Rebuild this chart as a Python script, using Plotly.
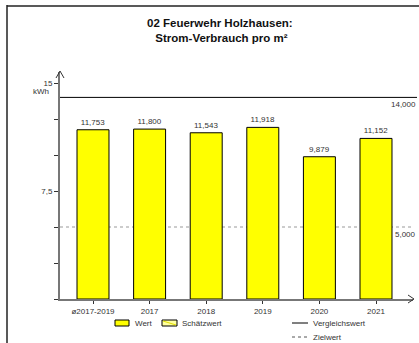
import plotly.graph_objects as go

categories = ["ø2017-2019", "2017", "2018", "2019", "2020", "2021"]
werte = [11.753, 11.800, 11.543, 11.918, 9.879, 11.152]
vergleichswert = 14.0
zielwert = 5.0
title_lines = ["02 Feuerwehr Holzhausen:", " Strom-Verbrauch pro m²"]
y_tickvals = [7.5, 15]

W, H = 419, 343
L, R, T, B = 60, 413, 72, 299  # plot area pixels


def px(x):
    return (x - L) / (R - L)


def py(y):
    return (B - y) / (B - T)


x0 = (L - 93) / 56.6
x1 = (R - 93) / 56.6
ytop = 15 + (83 - T) / 14.4

fig = go.Figure()
fig.add_trace(go.Bar(
    x=list(range(len(categories))), y=werte, width=0.565,
    marker=dict(color="#ffff00", line=dict(color="#000000", width=1)),
    texttemplate="%{y:.3f}", textposition="outside",
    textfont=dict(size=8, color="#333333", family="Liberation Sans, Arial"),
    cliponaxis=False, showlegend=False, hoverinfo="skip",
))

shapes = []
shapes.append(dict(type="line", xref="paper", yref="y", x0=0, x1=px(417),
                   y0=vergleichswert, y1=vergleichswert,
                   line=dict(color="#000000", width=1), layer="below"))
shapes.append(dict(type="line", xref="paper", yref="y", x0=0, x1=px(412),
                   y0=zielwert, y1=zielwert,
                   line=dict(color="#999999", width=1, dash="dot"), layer="below"))
shapes.append(dict(type="line", xref="paper", yref="paper", x0=px(7), x1=px(7),
                   y0=py(5), y1=py(343), line=dict(color="#222222", width=1.5)))
shapes.append(dict(type="line", xref="paper", yref="paper", x0=px(7), x1=px(419),
                   y0=py(6), y1=py(6), line=dict(color="#222222", width=1.5)))
shapes.append(dict(type="path", xref="paper", yref="paper",
                   path=f"M {px(56)} {py(78)} L {px(60)} {py(71)} L {px(64)} {py(78)}",
                   line=dict(color="#333333", width=1)))
shapes.append(dict(type="path", xref="paper", yref="paper",
                   path=f"M {px(408)} {py(295)} L {px(414)} {py(299)} L {px(408)} {py(303)}",
                   line=dict(color="#333333", width=1)))
shapes.append(dict(type="rect", xref="paper", yref="paper", x0=px(115), x1=px(129),
                   y0=py(320), y1=py(326), fillcolor="#ffff00",
                   line=dict(color="#000000", width=1)))
shapes.append(dict(type="rect", xref="paper", yref="paper", x0=px(162), x1=px(177),
                   y0=py(320), y1=py(326), fillcolor="#ffffa0",
                   line=dict(color="#000000", width=1)))
shapes.append(dict(type="line", xref="paper", yref="paper", x0=px(163), x1=px(176),
                   y0=py(321), y1=py(325), line=dict(color="#e0e000", width=1)))
shapes.append(dict(type="line", xref="paper", yref="paper", x0=px(292), x1=px(308),
                   y0=py(323), y1=py(323), line=dict(color="#000000", width=1)))
shapes.append(dict(type="line", xref="paper", yref="paper", x0=px(292), x1=px(308),
                   y0=py(337), y1=py(337), line=dict(color="#555555", width=1, dash="dot")))

font = "Liberation Sans, Arial, sans-serif"
ann = []
ann.append(dict(xref="paper", yref="paper", x=px(220), y=py(31), xanchor="center",
                yanchor="middle", showarrow=False,
                text="<b>" + title_lines[0] + "</b><br><b>" + title_lines[1] + "</b>",
                font=dict(size=11.5, color="#111111", family=font)))
ann.append(dict(xref="paper", yref="paper", x=px(51), y=py(91), xanchor="right",
                yanchor="middle", showarrow=False, text="kWh",
                font=dict(size=8, color="#333333", family=font)))
ann.append(dict(xref="paper", yref="y", x=px(418), y=vergleichswert, xanchor="right",
                yanchor="top", showarrow=False, text=f"{vergleichswert:.3f}".replace(".", ","),
                font=dict(size=8, color="#333333", family=font), yshift=-1))
ann.append(dict(xref="paper", yref="y", x=px(418), y=zielwert, xanchor="right",
                yanchor="top", showarrow=False, text=f"{zielwert:.3f}".replace(".", ","),
                font=dict(size=8, color="#333333", family=font), yshift=-1))
for xx, yy, t in [(133, 323, "Wert"), (180, 323, "Schätzwert"),
                  (311, 323, "Vergleichswert"), (311, 337, "Zielwert")]:
    ann.append(dict(xref="paper", yref="paper", x=px(xx), y=py(yy), xanchor="left",
                    yanchor="middle", showarrow=False, text=t,
                    font=dict(size=8, color="#333333", family=font)))

fig.update_layout(
    width=W, height=H,
    margin=dict(l=L, r=W - R, t=T, b=H - B, pad=0),
    paper_bgcolor="white", plot_bgcolor="white",
    separators=",.",
    shapes=shapes, annotations=ann,
    font=dict(family=font, size=8, color="#333333"),
    xaxis=dict(range=[x0, x1], tickvals=list(range(len(categories))), ticktext=categories,
               showgrid=False, zeroline=False, showline=True, linecolor="#777777",
               linewidth=2, ticks="outside", ticklen=3, tickcolor="#333333",
               tickfont=dict(size=8, color="#333333"), fixedrange=True),
    yaxis=dict(range=[0, ytop], tickvals=y_tickvals, ticktext=["7,5", "15"],
               showgrid=False, zeroline=False, showline=True, linecolor="#777777",
               linewidth=2, ticks="outside", ticklen=4, tickcolor="#333333",
               tickfont=dict(size=8, color="#333333"),
               minor=dict(dtick=2.5, tick0=0, ticks="outside", ticklen=4,
                          tickcolor="#333333", showgrid=False),
               fixedrange=True),
)

fig.write_html("out.html", config={"displayModeBar": False},
               post_script="document.body.style.margin='0';document.body.style.overflow='hidden';")
